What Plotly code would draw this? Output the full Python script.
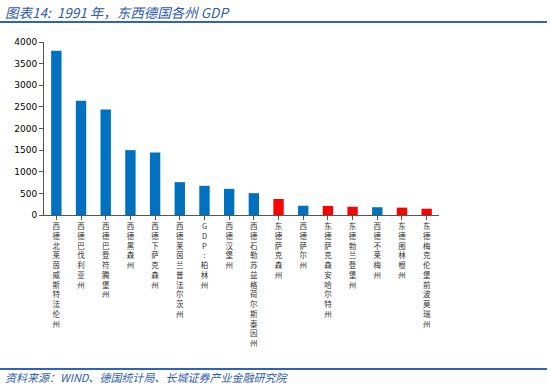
import plotly.graph_objects as go

categories = [
    "西德 北莱茵 威斯特法伦州",
    "西德 巴伐利亚州",
    "西德 巴登 符腾堡州",
    "西德 黑森州",
    "西德 下萨克森州",
    "西德 莱茵兰 普法尔茨州",
    "GDP: 柏林州",
    "西德 汉堡州",
    "西德 石勒苏益格 荷尔斯泰因州",
    "东德 萨克森州",
    "西德 萨尔州",
    "东德 萨克森 安哈尔特州",
    "东德 勃兰登堡州",
    "西德 不莱梅州",
    "东德 图林根州",
    "东德 梅克伦堡 前波莫瑞州",
]
values = [3800, 2640, 2440, 1500, 1445, 760, 675, 605, 505, 370, 215, 210, 190, 180, 170, 145]
is_east = [c.startswith("东德") for c in categories]
y_ticks = [0, 500, 1000, 1500, 2000, 2500, 3000, 3500, 4000]

title_text = "图表14:  1991 年，东西德国各州 GDP"
source_text = "资料来源：WIND、德国统计局、长城证券产业金融研究院"

BLUE = "#0070C0"
RED = "#FF0000"


def vertical(label):
    chars = [ch for ch in label if ch != " "]
    return "<br>".join(chars)


ticktext = [vertical(c) for c in categories]
colors = [RED if e else BLUE for e in is_east]

fig = go.Figure()
fig.add_trace(go.Bar(
    x=list(range(len(categories))),
    y=values,
    marker=dict(color=colors, line=dict(width=0)),
    width=0.42,
))

W, H = 550, 386
L, R, T, B = 44, 111, 42, 171
pw = W - L - R
ph = H - T - B


def px_x(px):
    return (px - L) / pw


def px_y(py):
    return (H - B - py) / ph


fig.update_layout(
    template="none",
    width=W, height=H,
    margin=dict(l=L, r=R, t=T, b=B, pad=0, autoexpand=False),
    plot_bgcolor="white", paper_bgcolor="white",
    showlegend=False,
    font=dict(family="DejaVu Sans", size=9, color="#000000"),
    xaxis=dict(
        automargin=False,
        tickmode="array",
        tickvals=list(range(len(categories))),
        ticktext=ticktext,
        range=[-0.5, len(categories) - 0.5],
        showline=True, linecolor="#555555", linewidth=1,
        ticks="outside", ticklen=4, tickcolor="#555555",
        showgrid=False, zeroline=False,
        tickangle=0,
        tickson="boundaries",
        tickfont=dict(family="Noto Sans CJK SC", size=7.5, color="#333333"),
    ),
    yaxis=dict(
        automargin=False,
        range=[0, 4000],
        tickmode="array", tickvals=y_ticks,
        showline=True, linecolor="#555555", linewidth=1,
        ticks="outside", ticklen=4, tickcolor="#555555",
        showgrid=False, zeroline=False,
        tickfont=dict(family="DejaVu Sans", size=9, color="#000000"),
    ),
    shapes=[
        dict(type="line", xref="paper", yref="paper",
             x0=px_x(0), x1=px_x(547), y0=px_y(22), y1=px_y(22),
             line=dict(color="#2F64B4", width=2)),
        dict(type="line", xref="paper", yref="paper",
             x0=px_x(0), x1=px_x(547), y0=px_y(369), y1=px_y(369),
             line=dict(color="#2F64B4", width=2)),
    ],
    annotations=[
        dict(text="<i>" + title_text + "</i>", xref="paper", yref="paper",
             x=px_x(3), y=px_y(12), xanchor="left", yanchor="middle",
             showarrow=False,
             font=dict(family="Noto Sans CJK SC", size=13.5, color="#2F5DA8")),
        dict(text="<i>" + source_text + "</i>", xref="paper", yref="paper",
             x=px_x(3), y=px_y(377), xanchor="left", yanchor="middle",
             showarrow=False,
             font=dict(family="Noto Sans CJK SC", size=11, color="#2F5DA8")),
    ],
)

fig.write_html(
    "out.html",
    config={"displayModeBar": False},
    post_script="document.body.style.margin='0';document.body.style.overflow='hidden';",
)
